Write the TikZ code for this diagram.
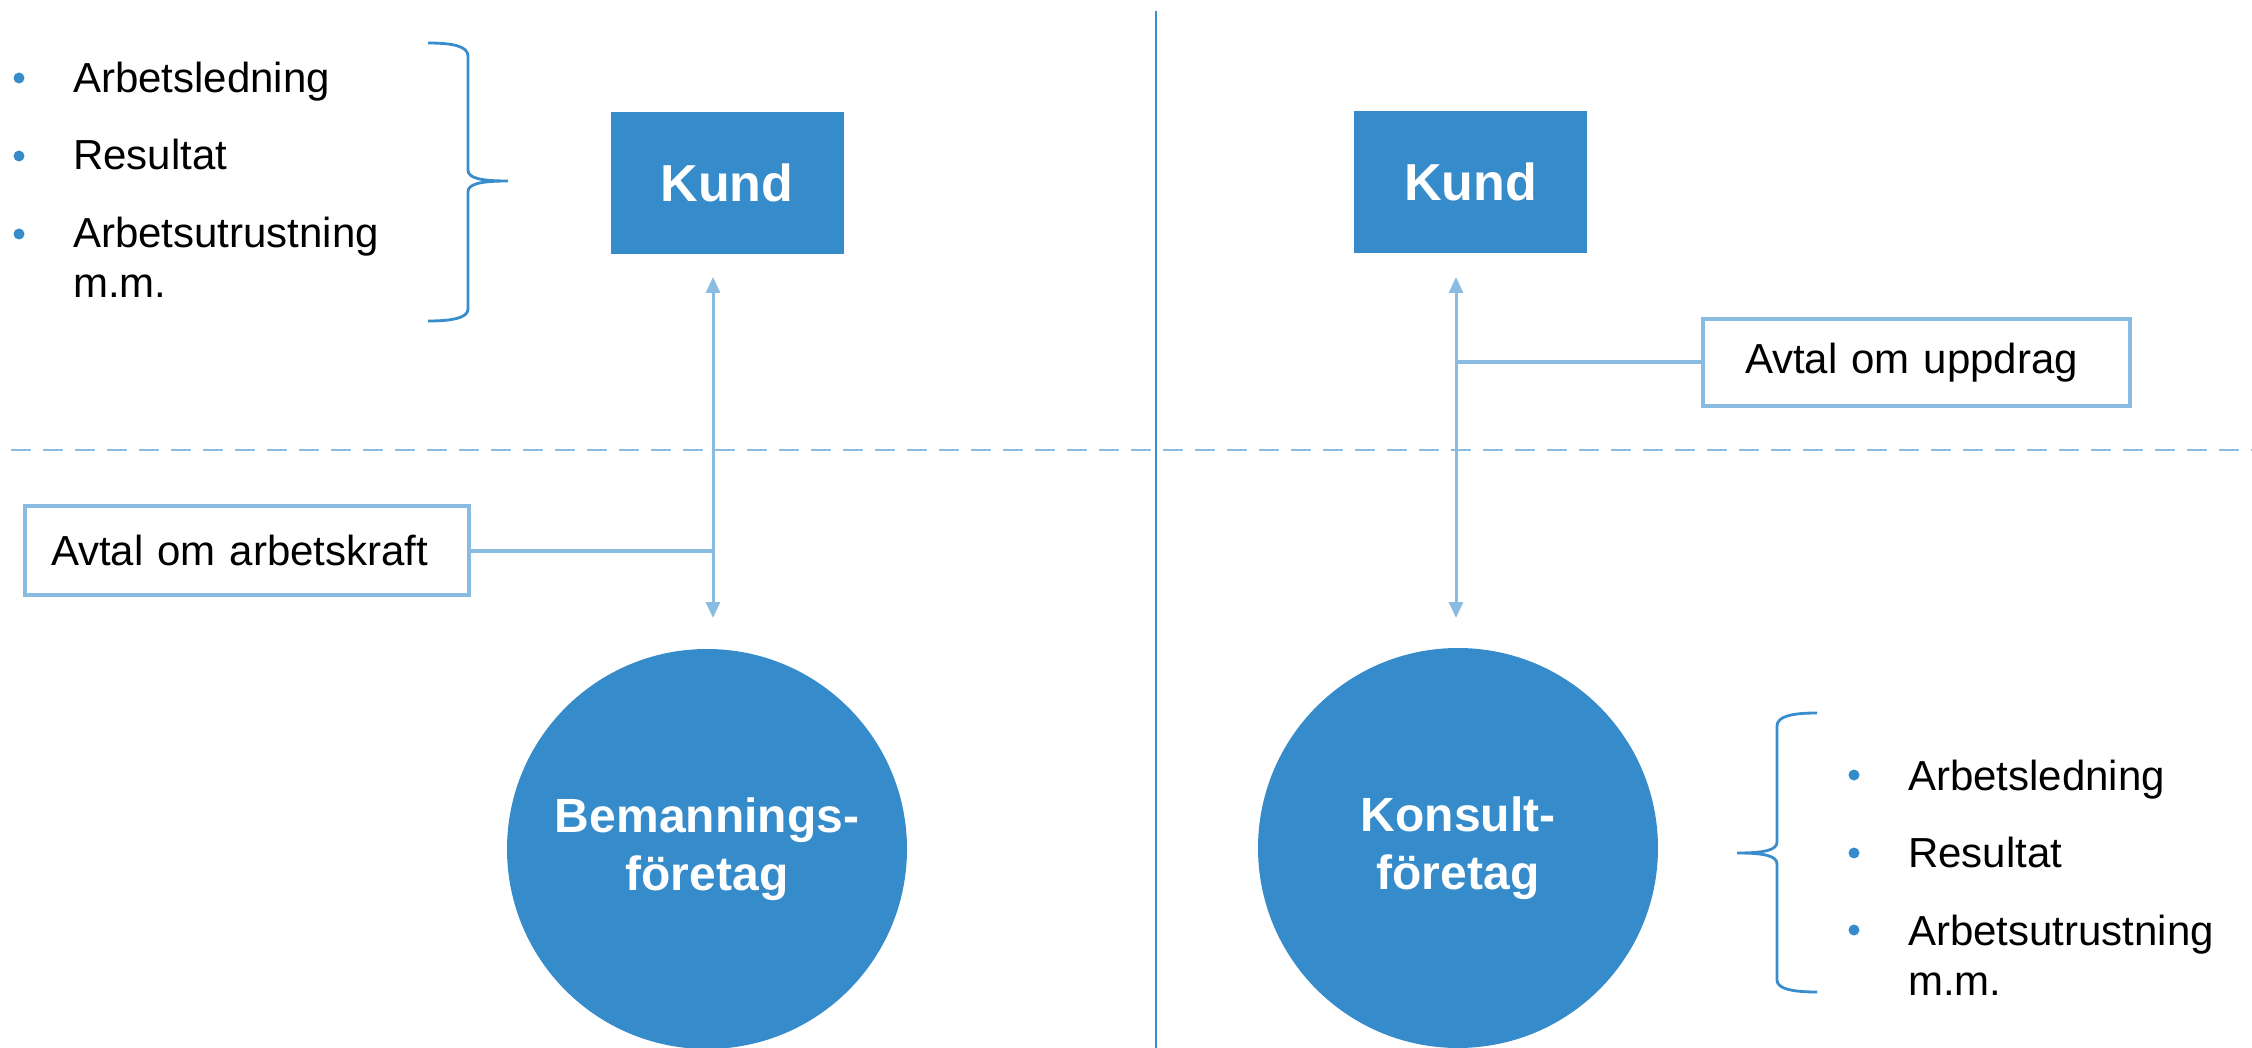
\documentclass[tikz,border=0pt]{standalone}
\usepackage{fontspec}
\setmainfont{Liberation Sans}
\usetikzlibrary{arrows.meta}
\definecolor{mainblue}{RGB}{54,140,202}
\definecolor{lightblue}{RGB}{138,188,226}
\definecolor{lineblue}{RGB}{58,141,204}
\begin{document}
\begin{tikzpicture}[x=1pt,y=-1pt,
  kundbox/.style={rectangle, fill=mainblue, minimum width=233pt, minimum height=142pt, inner sep=0pt, text=white, font=\fontsize{52}{60}\selectfont\bfseries},
  firm/.style={circle, fill=mainblue, minimum size=400pt, inner sep=0pt, text=white, align=center, font=\fontsize{48}{57.5}\selectfont\bfseries},
  deal/.style={rectangle, draw=lightblue, line width=4pt, fill=white, inner sep=0pt, align=left, font=\fontsize{42}{50}\selectfont},
  joinline/.style={draw=lightblue, line width=4pt},
  dbl/.style={draw=lightblue, line width=3pt, {Triangle[length=16pt,width=14pt]}-{Triangle[length=16pt,width=14pt]}},
  listitem/.style={anchor=base west, inner sep=0pt, font=\fontsize{42}{50}\selectfont},
  bulletdot/.style={circle, fill=mainblue, inner sep=0pt, minimum size=11pt},
  brace/.style={draw=lineblue, line width=2.8pt},
]
\useasboundingbox (0,0) rectangle (2252,1048);
% separators
\draw[lineblue, line width=2.2pt] (1156,11) -- (1156,1048);
\draw[lightblue, line width=2.6pt, dash pattern=on 20pt off 12pt] (11,450) -- (2252,450);

% left side
\node[kundbox] (kundL) at (727,183) {Kund};
\node[firm] (bem) at (707,849) {Bemannings-\\företag};
\coordinate (ltop) at (713,277);
\coordinate (lbot) at (713,618);
\draw[dbl] (ltop) -- (lbot);
\node[deal, minimum width=444pt, minimum height=89pt, text width=392pt] (dealL) at (247,550.5) {Avtal om arbetskraft};
\draw[joinline] (dealL.east) -- (dealL.east -| ltop);

\node[bulletdot] (bL1) at (19,78) {};
\node[bulletdot] (bL2) at (19,156) {};
\node[bulletdot] (bL3) at (19,234) {};
\node[listitem] (tL1) at (73,93) {Arbetsledning};
\node[listitem] (tL2) at (73,170) {Resultat};
\node[listitem] (tL3) at (73,248) {Arbetsutrustning};
\node[listitem] (tL4) at (73,298) {m.m.};
\draw[brace] (428,43) .. controls (452,43) and (468,46) .. (468,56) -- (468,170)
  .. controls (468,178) and (480,181) .. (508,181)
  .. controls (480,181) and (468,184) .. (468,192) -- (468,309)
  .. controls (468,318) and (452,321) .. (428,321);

% right side
\node[kundbox] (kundR) at (1470.5,182) {Kund};
\node[firm] (kon) at (1458,848) {Konsult-\\företag};
\coordinate (rtop) at (1456,277);
\coordinate (rbot) at (1456,618);
\draw[dbl] (rtop) -- (rbot);
\node[deal, minimum width=427pt, minimum height=87pt, text width=343pt] (dealR) at (1916.5,362.5) {Avtal om uppdrag};
\draw[joinline] (dealR.west) -- (dealR.west -| rtop);

\node[bulletdot] (bR1) at (1854,775) {};
\node[bulletdot] (bR2) at (1854,853) {};
\node[bulletdot] (bR3) at (1854,930) {};
\node[listitem] (tR1) at (1908,790) {Arbetsledning};
\node[listitem] (tR2) at (1908,867) {Resultat};
\node[listitem] (tR3) at (1908,945) {Arbetsutrustning};
\node[listitem] (tR4) at (1908,995) {m.m.};
\draw[brace] (1817,713) .. controls (1793,713) and (1777,716) .. (1777,726) -- (1777,842)
  .. controls (1777,850) and (1765,853) .. (1737,853)
  .. controls (1765,853) and (1777,856) .. (1777,864) -- (1777,980)
  .. controls (1777,989) and (1793,992) .. (1817,992);
\end{tikzpicture}
\end{document}
